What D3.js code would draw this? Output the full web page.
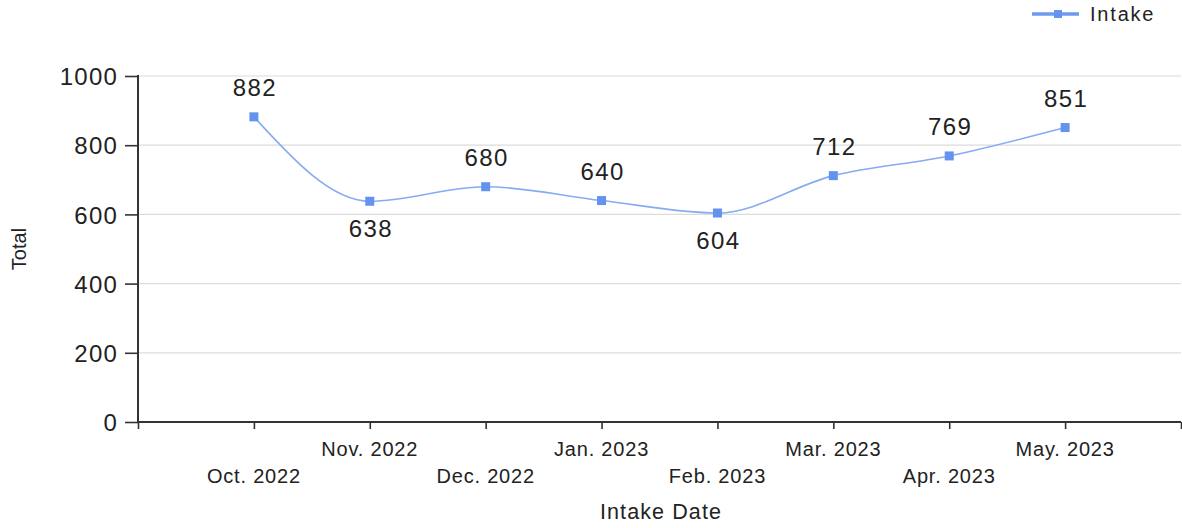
<!DOCTYPE html>
<html>
<head>
<meta charset="utf-8">
<script src="https://cdn.jsdelivr.net/npm/d3@7"></script>
<style>
  html, body { margin: 0; padding: 0; background: #fff; }
  svg { display: block; font-family: "Liberation Sans", Arial, sans-serif; }
</style>
</head>
<body>
<svg id="chart" width="1182" height="528"></svg>
<script>
const categories = ["Oct. 2022", "Nov. 2022", "Dec. 2022", "Jan. 2023", "Feb. 2023", "Mar. 2023", "Apr. 2023", "May. 2023"];
const intake = [882, 638, 680, 640, 604, 712, 769, 851];
const yTicks = [0, 200, 400, 600, 800, 1000];
const seriesName = "Intake";
const xTitle = "Intake Date";
const yTitle = "Total";

(function () {
const svg = d3.select("#chart");
const pLeft = 138, pRight = 1181, pTop = 76, pBottom = 422;

const x = d3.scaleLinear().domain([-1, categories.length]).range([pLeft, pRight]);
const y = d3.scaleLinear().domain([0, 1000]).range([pBottom, pTop]);

// gridlines
svg.append("g")
  .selectAll("line")
  .data(yTicks.filter(d => d > 0))
  .join("line")
  .attr("x1", pLeft).attr("x2", pRight)
  .attr("y1", d => y(d)).attr("y2", d => y(d))
  .attr("stroke", "#dcdcdc").attr("stroke-width", 1.2);

// y axis
const yAxis = svg.append("g")
  .attr("transform", `translate(${pLeft},0)`)
  .call(d3.axisLeft(y).tickValues(yTicks).tickSize(13).tickPadding(7).tickFormat(d3.format("d")));
yAxis.select(".domain").attr("stroke", "#333").attr("stroke-width", 2).attr("d", `M0,${pBottom}V${pTop - 1}`);
yAxis.selectAll(".tick line").attr("stroke", "#333").attr("stroke-width", 1.6);
yAxis.selectAll(".tick text")
  .attr("fill", "#222").style("font-size", "24px").style("letter-spacing", "1.2px")
  .attr("dy", "0.36em");

// x axis
const xTickVals = d3.range(-1, categories.length + 1);
const xAxis = svg.append("g")
  .attr("transform", `translate(0,${pBottom})`)
  .call(d3.axisBottom(x).tickValues(xTickVals).tickSize(7).tickFormat(""));
xAxis.select(".domain").attr("stroke", "#333").attr("stroke-width", 2).attr("d", `M${pLeft},0H${pRight}`);
xAxis.selectAll(".tick line").attr("stroke", "#333").attr("stroke-width", 1.6);

svg.append("g")
  .selectAll("text")
  .data(categories)
  .join("text")
  .attr("x", (d, i) => x(i))
  .attr("y", (d, i) => i % 2 === 0 ? 483 : 456)
  .attr("text-anchor", "middle")
  .attr("fill", "#222")
  .style("font-size", "20px")
  .style("letter-spacing", "0.8px")
  .text(d => d);

// axis titles
svg.append("text")
  .attr("x", 661).attr("y", 519)
  .attr("text-anchor", "middle")
  .attr("fill", "#222")
  .style("font-size", "21.5px").style("letter-spacing", "1.1px")
  .text(xTitle);

svg.append("text")
  .attr("transform", "translate(26,249) rotate(-90)")
  .attr("text-anchor", "middle")
  .attr("fill", "#222")
  .style("font-size", "20px")
  .text(yTitle);

// series line
const line = d3.line()
  .x((d, i) => x(i))
  .y(d => y(d))
  .curve(d3.curveMonotoneX);

svg.append("path")
  .datum(intake)
  .attr("d", line)
  .attr("fill", "none")
  .attr("stroke", "#86abf2")
  .attr("stroke-width", 1.6);

// markers
const ms = 9;
svg.append("g")
  .selectAll("rect")
  .data(intake)
  .join("rect")
  .attr("x", (d, i) => x(i) - ms / 2)
  .attr("y", d => y(d) - ms / 2)
  .attr("width", ms).attr("height", ms)
  .attr("fill", "#6493ee");

// data labels
function isLocalMin(i) {
  const v = intake[i];
  const prev = i > 0 ? intake[i - 1] : Infinity;
  const next = i < intake.length - 1 ? intake[i + 1] : Infinity;
  return v < prev && v < next;
}
svg.append("g")
  .selectAll("text")
  .data(intake)
  .join("text")
  .attr("x", (d, i) => x(i) + 1)
  .attr("y", (d, i) => isLocalMin(i) ? y(d) + 36 : y(d) - 21)
  .attr("text-anchor", "middle")
  .attr("fill", "#222")
  .style("font-size", "24px")
  .style("letter-spacing", "1.4px")
  .text(d => d);

// legend
const lg = svg.append("g");
lg.append("line")
  .attr("x1", 1032).attr("x2", 1079)
  .attr("y1", 14).attr("y2", 14)
  .attr("stroke", "#6e9bef").attr("stroke-width", 3.5);
lg.append("rect")
  .attr("x", 1054).attr("y", 10).attr("width", 8).attr("height", 8)
  .attr("fill", "#6493ee");
lg.append("text")
  .attr("x", 1090).attr("y", 21)
  .attr("fill", "#222")
  .style("font-size", "20px").style("letter-spacing", "1.8px")
  .text(seriesName);
})();
</script>
</body>
</html>
